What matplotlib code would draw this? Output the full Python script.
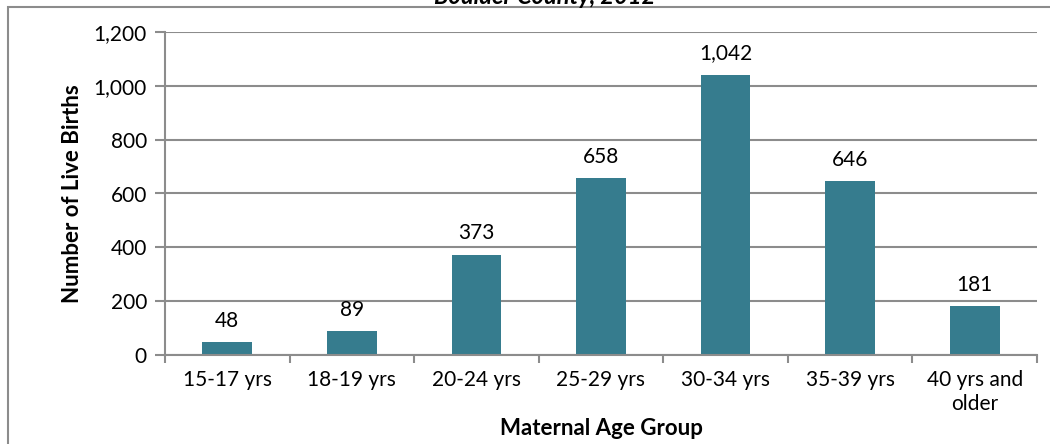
import matplotlib
matplotlib.use('Agg')
import matplotlib.pyplot as plt
from matplotlib.patches import Rectangle
import numpy as np

# Data
age_groups = ['15-17 yrs', '18-19 yrs', '20-24 yrs', '25-29 yrs',
              '30-34 yrs', '35-39 yrs', '40 yrs and\nolder']
births = [48, 89, 373, 658, 1042, 646, 181]
y_ticks = [0, 200, 400, 600, 800, 1000, 1200]

plt.rcParams['font.family'] = ['Lato', 'DejaVu Sans']

fig = plt.figure(figsize=(10.5, 4.44), dpi=100)
W, H = 1050, 444

# outer chart border (clipped on right/bottom)
fig.patches.append(Rectangle((8 / W, -0.1), 1.2, 1 - 7.5 / H + 0.1,
                             transform=fig.transFigure, fill=False,
                             edgecolor='#8c8c8c', linewidth=1.5))

# title, mostly cut off at the top
fig.text(545 / W, 1 - 4 / H, 'Boulder County, 2012', ha='center',
         va='baseline', fontsize=17, fontweight='bold', style='italic')

ax = fig.add_axes([165 / W, (H - 355) / H, (1037 - 165) / W, (355 - 32) / H])

x = np.arange(len(age_groups))
bars = ax.bar(x, births, width=0.4, color='#367C8E', zorder=3)

for xi, v in zip(x, births):
    ax.annotate(f'{v:,}', (xi, v), xytext=(0, 8), textcoords='offset points',
                ha='center', va='bottom', fontsize=15)

ax.set_xlim(-0.5, len(age_groups) - 0.5)
ax.set_ylim(0, 1200)
ax.set_yticks(y_ticks)
ax.set_yticklabels([f'{t:,}' for t in y_ticks], fontsize=15)
ax.grid(axis='y', color='#8c8c8c', linewidth=1.5, zorder=0)

ax.set_xticks(x)
ax.set_xticklabels(age_groups, fontsize=15, linespacing=1.25)
ax.set_xticks(np.arange(len(age_groups) + 1) - 0.5, minor=True)
ax.tick_params(axis='x', which='major', length=0, pad=11)
ax.tick_params(axis='x', which='minor', length=6, width=1.5, color='#8c8c8c')
ax.tick_params(axis='y', length=7, width=1.5, color='#8c8c8c', pad=6)

for side in ['top', 'right']:
    ax.spines[side].set_visible(False)
for side in ['left', 'bottom']:
    ax.spines[side].set_color('#8c8c8c')
    ax.spines[side].set_linewidth(1.5)
    ax.spines[side].set_zorder(4)

ax.set_xlabel('Maternal Age Group', fontsize=16, fontweight='bold', labelpad=3)
ax.set_ylabel('Number of Live Births', fontsize=16, fontweight='bold', labelpad=8)

fig.savefig('out.png', dpi=100)
